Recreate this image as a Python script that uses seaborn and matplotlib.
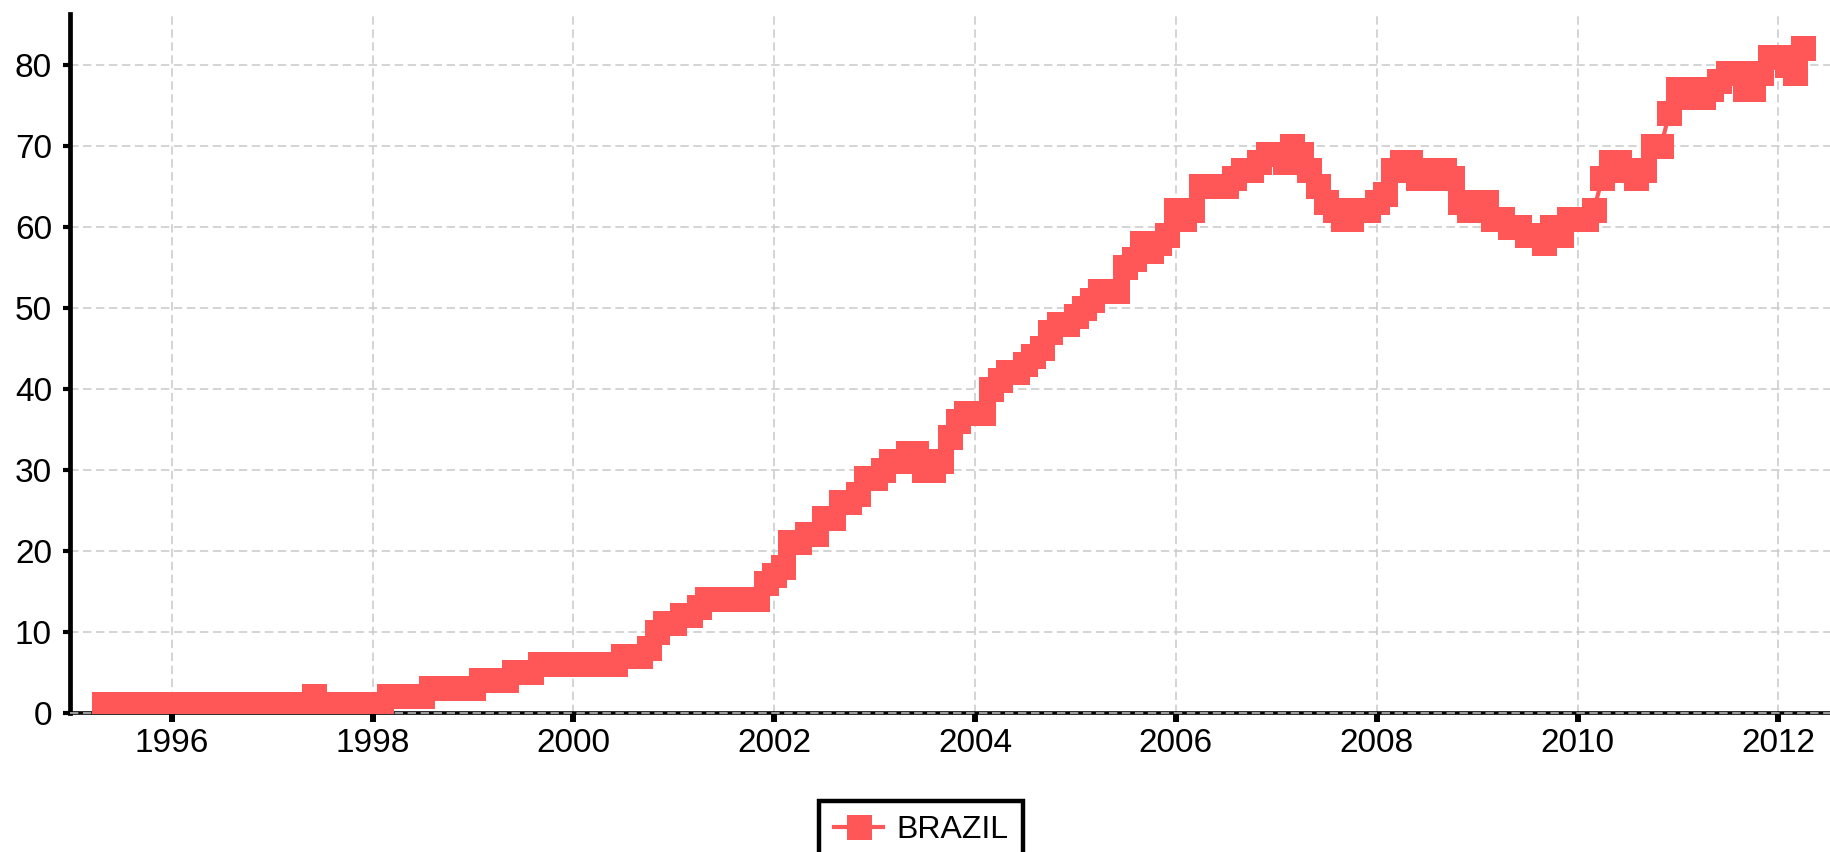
import matplotlib
matplotlib.use('Agg')
import matplotlib.pyplot as plt
import matplotlib.dates as mdates
import pandas as pd
import seaborn as sns

# monthly values, first point May 1995, last point Apr 2012
first_month = '1995-05-01'
series_name = 'BRAZIL'
v1995 = [1, 1, 1, 1, 1, 1, 1, 1]  # May-Dec
v1996 = [1, 1, 1, 1, 1, 1, 1, 1, 1, 1, 1, 1]
v1997 = [1, 1, 1, 1, 1, 2, 1, 1, 1, 1, 1, 1]
v1998 = [1, 1, 2, 2, 2, 2, 2, 3, 3, 3, 3, 3]
v1999 = [3, 4, 4, 4, 4, 5, 5, 5, 6, 6, 6, 6]
v2000 = [6, 6, 6, 6, 6, 6, 7, 7, 7, 8, 10, 11]
v2001 = [11, 12, 12, 13, 14, 14, 14, 14, 14, 14, 14, 16]
v2002 = [17, 18, 21, 21, 22, 22, 24, 24, 26, 26, 27, 29]
v2003 = [29, 30, 31, 31, 32, 32, 30, 30, 31, 34, 36, 37]
v2004 = [37, 37, 40, 41, 42, 42, 43, 44, 45, 47, 48, 48]
v2005 = [49, 50, 51, 52, 52, 52, 55, 56, 58, 57, 58, 59]
v2006 = [62, 61, 62, 65, 65, 65, 65, 66, 67, 67, 68, 69]
v2007 = [69, 68, 70, 69, 67, 65, 63, 62, 61, 61, 62, 62]
v2008 = [63, 64, 67, 68, 68, 66, 67, 66, 67, 66, 63, 62]
v2009 = [63, 63, 61, 61, 60, 60, 59, 59, 58, 60, 59, 61]
v2010 = [61, 61, 62, 66, 68, 68, 67, 66, 67, 70, 70, 74]
v2011 = [77, 76, 77, 76, 77, 78, 79, 79, 77, 77, 79, 81]
v2012 = [81, 80, 79, 82]  # Jan-Apr

y_ticks = [0, 10, 20, 30, 40, 50, 60, 70, 80]

values = (v1995 + v1996 + v1997 + v1998 + v1999 + v2000 + v2001 + v2002 + v2003
          + v2004 + v2005 + v2006 + v2007 + v2008 + v2009 + v2010 + v2011 + v2012)
df = pd.DataFrame({
    'date': pd.date_range(first_month, periods=len(values), freq='MS'),
    'value': values,
})

plt.rcParams['font.family'] = ['Liberation Sans', 'DejaVu Sans']

fig = plt.figure(figsize=(18.31, 8.52), dpi=100)
ax = fig.add_axes([0.0382, 0.1637, 0.9618, 0.8199])

sns.lineplot(data=df, x='date', y='value', ax=ax, color='#FF5757',
             linewidth=3, marker='s', markersize=18, markeredgewidth=0,
             label=series_name, legend=False, zorder=3)

ax.set_xlim(pd.Timestamp('1994-12-27'), pd.Timestamp('2012-07-11'))
ax.set_ylim(0, 86.26)
ax.set_yticks(y_ticks)
ax.xaxis.set_major_locator(mdates.YearLocator(2))
ax.xaxis.set_major_formatter(mdates.DateFormatter('%Y'))
ax.set_xlabel('')
ax.set_ylabel('')

ax.set_axisbelow(True)
ax.grid(True, color='#c9c9c9', linestyle=(0, (5.5, 3)), linewidth=1.1)

for s in ['top', 'right']:
    ax.spines[s].set_visible(False)
ax.spines['left'].set_linewidth(3.4)
ax.spines['bottom'].set_linewidth(2.6)
# the zero gridline shows on top of the black bottom axis line
ax.axhline(0, color='#c9c9c9', linestyle=(0, (5.5, 3)), linewidth=1.1,
           zorder=2.6, clip_on=False)

ax.tick_params(axis='y', length=5, width=3, pad=8, labelsize=24, colors='black')
ax.tick_params(axis='x', length=6.5, width=4.3, pad=5, labelsize=24, colors='black')

leg = ax.legend(loc='upper center', bbox_to_anchor=(0.503, 0.0786),
                bbox_transform=fig.transFigure, fontsize=23, frameon=True,
                fancybox=False, edgecolor='black', framealpha=1,
                handlelength=1.56, handletextpad=0.4, borderpad=0.45)
leg.get_frame().set_linewidth(3.2)

fig.savefig('out.png', dpi=100)
